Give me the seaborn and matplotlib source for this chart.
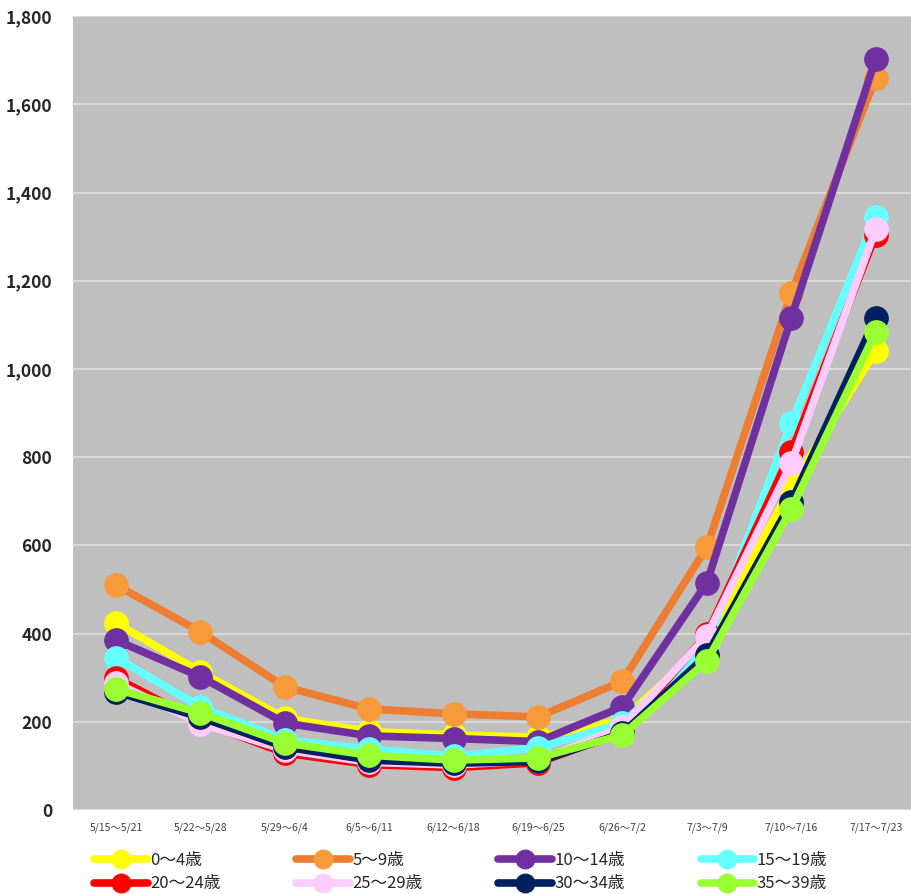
import pandas as pd
import matplotlib.pyplot as plt
import seaborn as sns
from matplotlib.ticker import FuncFormatter

# weekly periods
weeks = ["5/15〜5/21", "5/22〜5/28", "5/29〜6/4", "6/5〜6/11", "6/12〜6/18",
         "6/19〜6/25", "6/26〜7/2", "7/3〜7/9", "7/10〜7/16", "7/17〜7/23"]

age_0_4 = [424, 313, 208, 178, 170, 165, 204, 379, 733, 1041]
age_5_9 = [510, 404, 279, 229, 218, 211, 292, 596, 1172, 1660]
age_10_14 = [385, 302, 197, 168, 162, 155, 234, 515, 1116, 1703]
age_15_19 = [345, 234, 159, 138, 122, 141, 197, 374, 877, 1345]
age_20_24 = [299, 200, 129, 103, 96, 107, 177, 398, 812, 1304]
age_25_29 = [288, 196, 136, 108, 102, 112, 188, 395, 786, 1317]
age_30_34 = [268, 210, 143, 113, 106, 110, 174, 351, 698, 1116]
age_35_39 = [274, 220, 152, 124, 113, 118, 170, 338, 682, 1084]

groups = ["0〜4歳", "5〜9歳", "10〜14歳", "15〜19歳",
          "20〜24歳", "25〜29歳", "30〜34歳", "35〜39歳"]
series = [age_0_4, age_5_9, age_10_14, age_15_19,
          age_20_24, age_25_29, age_30_34, age_35_39]
line_colors = ["#FFFF00", "#ED7D31", "#7030A0", "#66FFFF",
               "#FF0000", "#FFCCFF", "#002060", "#99FF33"]
face_colors = ["#FFFF00", "#F79A3A", "#7030A0", "#66FFFF",
               "#FF0000", "#FFCCFF", "#002060", "#99FF33"]

sns.set_style("white")
plt.rcParams['font.family'] = ['Noto Sans CJK JP', 'DejaVu Sans']

fig = plt.figure(figsize=(9.12, 8.94), dpi=100)
ax = fig.add_axes([0.080, 0.094, 0.92, 0.888])
ax.set_facecolor("#BFBFBF")

for name, vals, lc, fc in zip(groups, series, line_colors, face_colors):
    sns.lineplot(x=weeks, y=vals, ax=ax, color=lc, linewidth=5.5,
                 marker="o", markersize=17, markerfacecolor=fc,
                 markeredgecolor=fc, label=name, sort=False)

ax.set_ylim(0, 1800)
ax.set_yticks(range(0, 1801, 200))
ax.yaxis.set_major_formatter(FuncFormatter(lambda v, p: f"{int(v):,}"))
ax.set_xlim(-0.51, 9.43)
ax.grid(axis="y", color="#D9D9D9", linewidth=1.5)
ax.set_axisbelow(True)
for s in ax.spines.values():
    s.set_visible(False)
ax.set_xlabel("")
ax.set_ylabel("")
ax.tick_params(axis="y", labelsize=12.5, length=0, pad=15)
ax.tick_params(axis="x", labelsize=7.5, length=0, pad=9, labelcolor="#404040")
for t in ax.get_yticklabels():
    t.set_fontweight("bold")

handles, labels = ax.get_legend_handles_labels()
ax.get_legend().remove()
order = [0, 4, 1, 5, 2, 6, 3, 7]
leg = fig.legend([handles[i] for i in order], [labels[i] for i in order],
                 loc="lower left", bbox_to_anchor=(0.087, -0.015), ncol=4,
                 frameon=False, fontsize=12, handlelength=3.2,
                 columnspacing=4.55, handletextpad=0.15, labelspacing=0.4,
                 markerscale=0.8)

plt.savefig("out.png", dpi=100)
